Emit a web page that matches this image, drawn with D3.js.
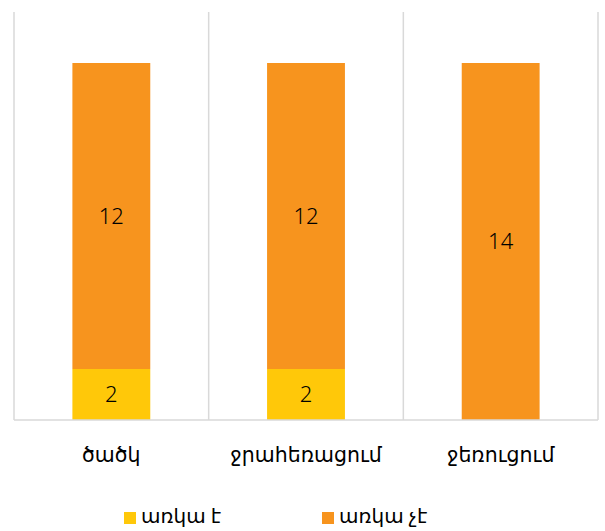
<!DOCTYPE html>
<html><head><meta charset="utf-8">
<script src="https://cdn.jsdelivr.net/npm/d3@7"></script>
<style>
body{margin:0;background:#fff;}
text{font-family:"Segoe UI","Noto Sans","DejaVu Sans",sans-serif;fill:#000;}
</style></head>
<body><svg id="c" width="605" height="531"></svg>
<script>
const categories = ["ծածկ", "ջրահեռացում", "ջեռուցում"];
const seriesNames = ["առկա է", "առկա չէ"];
const available = [2, 2, 0];
const notAvailable = [12, 12, 14];
const colors = ["#ffc809", "#f7941e"];

const W = 605, H = 531;
const m = {left: 14, right: 7, top: 12, bottom: 111};
const svg = d3.select("#c");
const x = d3.scaleBand().domain(categories).range([m.left, W - m.right]).paddingInner(0).paddingOuter(0);
const y = d3.scaleLinear().domain([0, 16]).range([H - m.bottom, m.top]);

const rows = categories.map((c, i) => ({cat: c, a: available[i], n: notAvailable[i]}));
const stack = d3.stack().keys(["a", "n"])(rows);

// vertical category gridlines
const bounds = categories.map(c => x(c)).concat([x.range()[1]]);
svg.append("g").selectAll("line").data(bounds).join("line")
  .attr("x1", d => d).attr("x2", d => d)
  .attr("y1", y(16)).attr("y2", y(0))
  .attr("stroke", "#d9d9d9").attr("stroke-width", 1.5);

const bw = x.bandwidth() * 0.4;
const off = (x.bandwidth() - bw) / 2;
stack.forEach((s, si) => {
  const g = svg.append("g");
  g.selectAll("rect").data(s.filter(d => d[1] - d[0] > 0)).join("rect")
    .attr("x", d => x(d.data.cat) + off)
    .attr("width", bw)
    .attr("y", d => y(d[1]))
    .attr("height", d => y(d[0]) - y(d[1]))
    .attr("fill", colors[si]);
  g.selectAll("text").data(s.filter(d => d[1] - d[0] > 0)).join("text")
    .attr("x", d => x(d.data.cat) + x.bandwidth() / 2)
    .attr("y", d => (y(d[0]) + y(d[1])) / 2)
    .attr("dy", "0.35em")
    .attr("text-anchor", "middle")
    .attr("font-size", 22)
    .attr("font-weight", 300)
    .text(d => d[1] - d[0]);
});

// x axis
const xa = svg.append("g").attr("transform", `translate(0,${y(0)})`)
  .call(d3.axisBottom(x).tickSize(0).tickPadding(0));
xa.select(".domain").attr("stroke", "#d9d9d9").attr("stroke-width", 1.5)
  .attr("d", `M${x.range()[0]},0H${x.range()[1]}`);
xa.selectAll("text").attr("font-size", 20.5).attr("y", 35).attr("dy", "0.35em")
  .style("font-family", "'Segoe UI','Noto Sans','DejaVu Sans',sans-serif").attr("fill", "#000");

// legend
const legX = [124, 322];
const lg = svg.append("g");
seriesNames.forEach((n, i) => {
  lg.append("rect").attr("x", legX[i]).attr("y", 512).attr("width", 12).attr("height", 12).attr("fill", colors[i]);
  lg.append("text").attr("x", legX[i] + 17).attr("y", 516).attr("dy", "0.35em")
    .attr("font-size", 20).text(n);
});
</script></body></html>
